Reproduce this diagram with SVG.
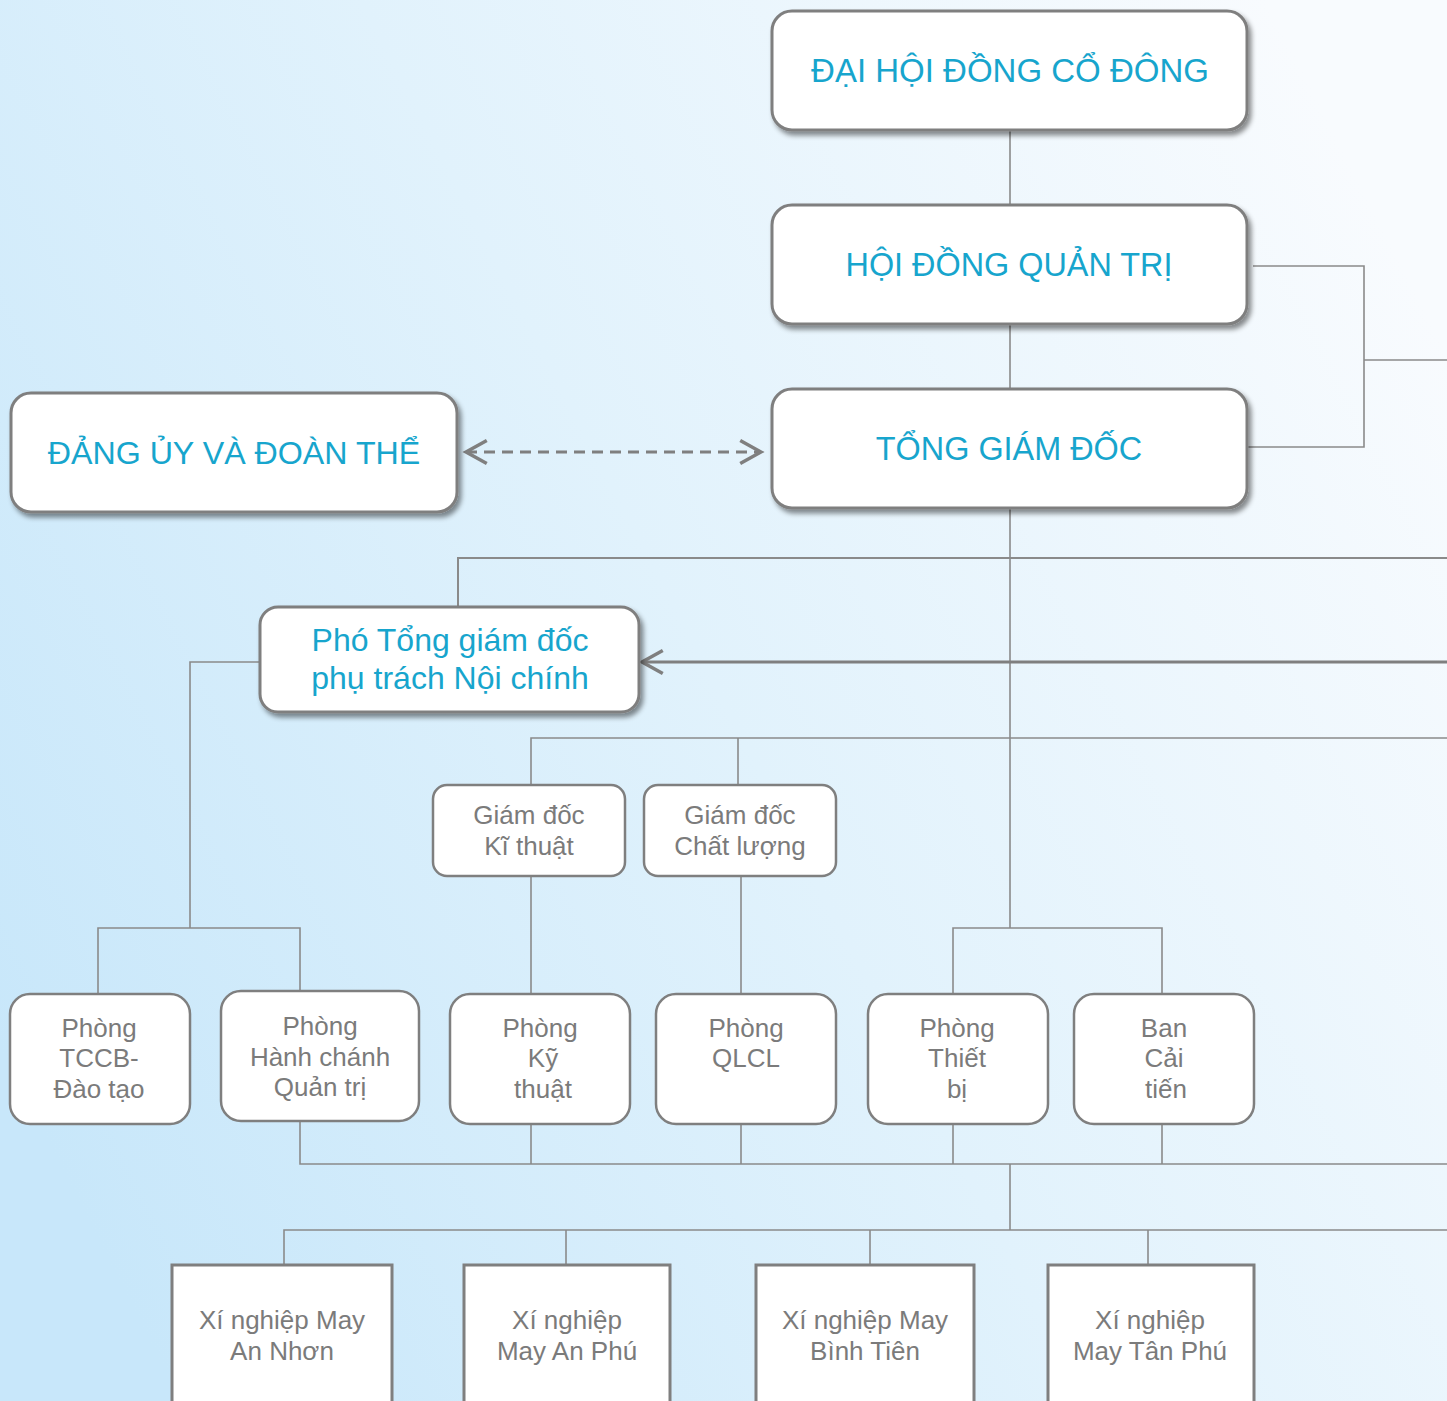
<svg xmlns="http://www.w3.org/2000/svg" width="1447" height="1401" viewBox="0 0 1447 1401">
<defs>
<linearGradient id="bg" x1="0" y1="0.75" x2="1" y2="0.25">
<stop offset="0" stop-color="#c8e7fa"/>
<stop offset="0.5" stop-color="#e1f2fc"/>
<stop offset="1" stop-color="#f8fbfe"/>
</linearGradient>
<filter id="sh" x="-10%" y="-10%" width="125%" height="130%">
<feDropShadow dx="3" dy="4" stdDeviation="2.5" flood-color="#000" flood-opacity="0.45"/>
</filter>
<marker id="ah" markerUnits="userSpaceOnUse" markerWidth="30" markerHeight="30" refX="0" refY="0" viewBox="-22 -13 26 26" orient="auto-start-reverse">
<path d="M-18,-10 L0,0 L-18,10" fill="none" stroke="#7f7f7f" stroke-width="3" stroke-dasharray="none"/>
</marker>
<style>
.big{fill:#fff;stroke:#7f7f7f;stroke-width:3;filter:url(#sh)}
.sm{fill:#fff;stroke:#7f7f7f;stroke-width:2.5}
.sq{fill:#fff;stroke:#7f7f7f;stroke-width:3}
.tc{font-family:"Liberation Sans",Arial,sans-serif;fill:#17a5cd;text-anchor:middle}
.tg{font-family:"Liberation Sans",Arial,sans-serif;fill:#7b7b7b;text-anchor:middle;font-size:26px}
.c{fill:none;stroke:#8a8a8a;stroke-width:1.6}
</style>
</defs>
<rect x="0" y="0" width="1447" height="1401" fill="url(#bg)"/>

<g id="connectors">
<path class="c" d="M1010,130 V205 M1010,324 V389 M1010,508 V928"/>
<path class="c" d="M1253,266 H1364 V447 H1248 M1364,360 H1447"/>
<path class="c" style="stroke-width:2" d="M458,607 V558 H1447"/>
<path d="M1447,662 H642" fill="none" stroke="#7f7f7f" stroke-width="3" marker-end="url(#ah)"/>
<path d="M466,452 H761" fill="none" stroke="#7f7f7f" stroke-width="3" stroke-dasharray="11 7" marker-start="url(#ah)" marker-end="url(#ah)"/>
<path class="c" d="M260,662 H190 V928 M98,994 V928 H300 V991"/>
<path class="c" d="M531,785 V738 H1447 M738,738 V785"/>
<path class="c" d="M531,877 V994 M741,877 V994"/>
<path class="c" d="M953,994 V928 H1162 V994"/>
<path class="c" d="M300,1121 V1164 H1447 M531,1124 V1164 M741,1124 V1164 M953,1124 V1164 M1162,1124 V1164"/>
<path class="c" d="M1010,1164 V1230 M284,1264 V1230 H1447 M566,1230 V1264 M870,1230 V1264 M1148,1230 V1264"/>
</g>

<g id="n-daihoi">
<rect class="big" x="772" y="11" width="475" height="119" rx="20"/>
<text class="tc" x="1010" y="82" font-size="33">ĐẠI HỘI ĐỒNG CỔ ĐÔNG</text>
</g>
<g id="n-hdqt">
<rect class="big" x="772" y="205" width="475" height="119" rx="20"/>
<text class="tc" x="1009" y="276" font-size="32.4">HỘI ĐỒNG QUẢN TRỊ</text>
</g>
<g id="n-tgd">
<rect class="big" x="772" y="389" width="475" height="119" rx="20"/>
<text class="tc" x="1009" y="460" font-size="32.4">TỔNG GIÁM ĐỐC</text>
</g>
<g id="n-dangy">
<rect class="big" x="11" y="393" width="446" height="119" rx="20"/>
<text class="tc" x="234" y="464" font-size="32.2">ĐẢNG ỦY VÀ ĐOÀN THỂ</text>
</g>
<g id="n-photong">
<rect class="big" x="260" y="607" width="379" height="105" rx="18"/>
<text class="tc" x="450" y="651" font-size="32">Phó Tổng giám đốc</text>
<text class="tc" x="450" y="689" font-size="32">phụ trách Nội chính</text>
</g>
<g id="n-gdkt">
<rect class="sm" x="433" y="785" width="192" height="91" rx="14"/>
<text class="tg" x="529" y="824">Giám đốc</text>
<text class="tg" x="529" y="855">Kĩ thuật</text>
</g>
<g id="n-gdcl">
<rect class="sm" x="644" y="785" width="192" height="91" rx="14"/>
<text class="tg" x="740" y="824">Giám đốc</text>
<text class="tg" x="740" y="855">Chất lượng</text>
</g>
<g id="n-tccb">
<rect class="sm" x="10" y="994" width="180" height="130" rx="20"/>
<text class="tg" x="99" y="1037">Phòng</text>
<text class="tg" x="99" y="1067">TCCB-</text>
<text class="tg" x="99" y="1098">Đào tạo</text>
</g>
<g id="n-hcqt">
<rect class="sm" x="221" y="991" width="198" height="130" rx="20"/>
<text class="tg" x="320" y="1035">Phòng</text>
<text class="tg" x="320" y="1066">Hành chánh</text>
<text class="tg" x="320" y="1096">Quản trị</text>
</g>
<g id="n-pkt">
<rect class="sm" x="450" y="994" width="180" height="130" rx="20"/>
<text class="tg" x="540" y="1037">Phòng</text>
<text class="tg" x="543" y="1067">Kỹ</text>
<text class="tg" x="543" y="1098">thuật</text>
</g>
<g id="n-qlcl">
<rect class="sm" x="656" y="994" width="180" height="130" rx="20"/>
<text class="tg" x="746" y="1037">Phòng</text>
<text class="tg" x="746" y="1067">QLCL</text>
</g>
<g id="n-thietbi">
<rect class="sm" x="868" y="994" width="180" height="130" rx="20"/>
<text class="tg" x="957" y="1037">Phòng</text>
<text class="tg" x="957" y="1067">Thiết</text>
<text class="tg" x="957" y="1098">bị</text>
</g>
<g id="n-caitien">
<rect class="sm" x="1074" y="994" width="180" height="130" rx="20"/>
<text class="tg" x="1164" y="1037">Ban</text>
<text class="tg" x="1164" y="1067">Cải</text>
<text class="tg" x="1166" y="1098">tiến</text>
</g>
<g id="n-annhon">
<rect class="sq" x="172" y="1265" width="220" height="160"/>
<text class="tg" x="282" y="1329">Xí nghiệp May</text>
<text class="tg" x="282" y="1360">An Nhơn</text>
</g>
<g id="n-anphu">
<rect class="sq" x="464" y="1265" width="206" height="160"/>
<text class="tg" x="567" y="1329">Xí nghiệp</text>
<text class="tg" x="567" y="1360">May An Phú</text>
</g>
<g id="n-binhtien">
<rect class="sq" x="756" y="1265" width="218" height="160"/>
<text class="tg" x="865" y="1329">Xí nghiệp May</text>
<text class="tg" x="865" y="1360">Bình Tiên</text>
</g>
<g id="n-tanphu">
<rect class="sq" x="1048" y="1265" width="206" height="160"/>
<text class="tg" x="1150" y="1329">Xí nghiệp</text>
<text class="tg" x="1150" y="1360">May Tân Phú</text>
</g>
</svg>
